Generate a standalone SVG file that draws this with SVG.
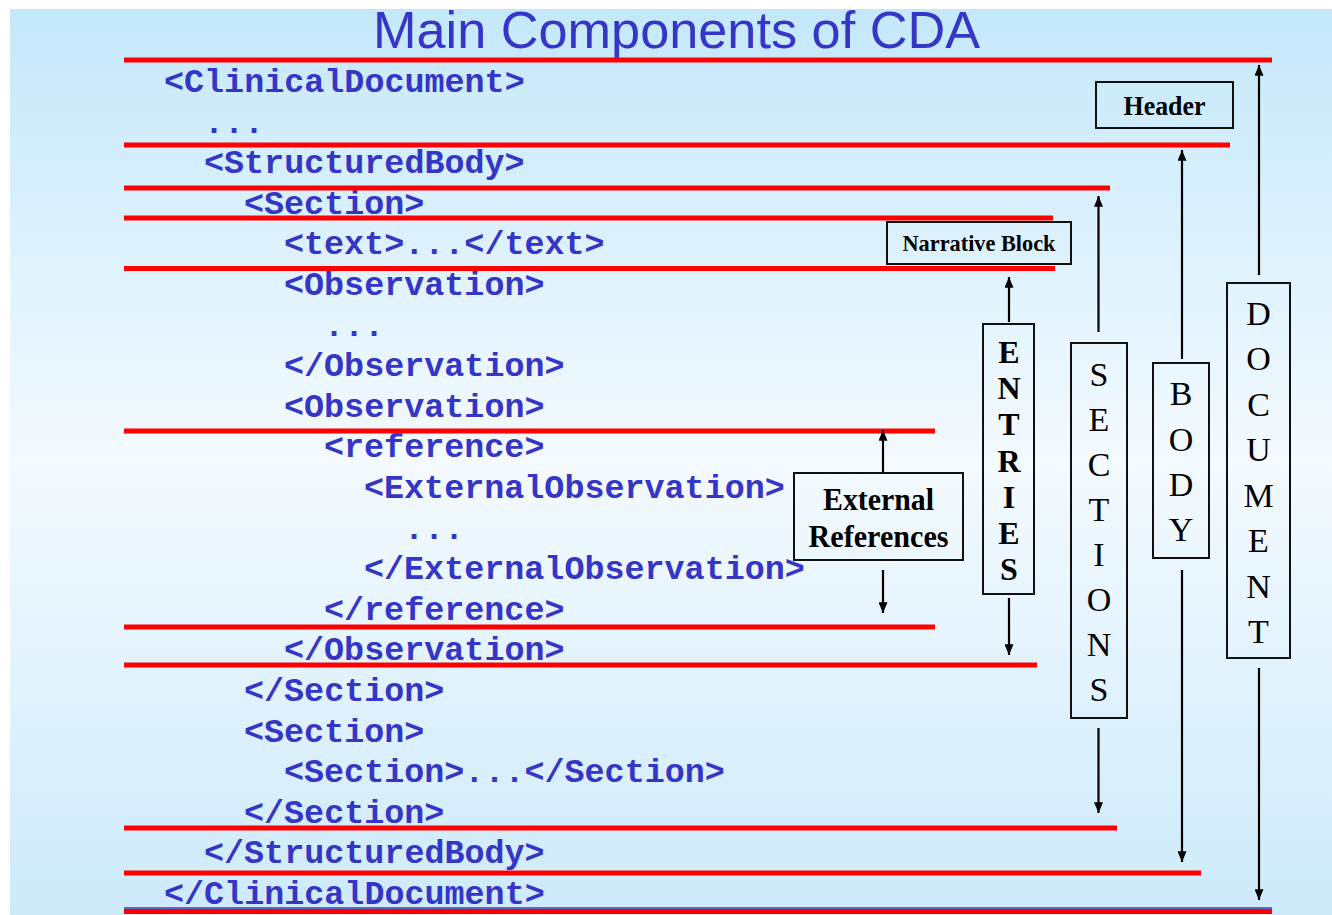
<svg xmlns="http://www.w3.org/2000/svg" width="1332" height="915" viewBox="0 0 1332 915">
  <defs>
    <linearGradient id="bg" x1="0" y1="0" x2="0" y2="1">
      <stop offset="0" stop-color="#c4e8fb"/>
      <stop offset="0.5" stop-color="#f4fafe"/>
      <stop offset="1" stop-color="#cdeafb"/>
    </linearGradient>
    <marker id="tip" viewBox="0 0 12 10" refX="12" refY="5" markerWidth="11" markerHeight="9" markerUnits="userSpaceOnUse" orient="auto">
      <path d="M0,0 L12,5 L0,10 z" fill="#000"/>
    </marker>
    <style>
      .title { font-family: "Liberation Sans", Arial, sans-serif; font-size: 52px; fill: #3535c8; }
      .code { font-family: "Liberation Mono", "Courier New", monospace; font-weight: bold; font-size: 33.4px; fill: #3535c8; }
      .rule { stroke: #ff0000; stroke-width: 5; }
      .box { fill: none; stroke: #111; stroke-width: 2; }
      .lbl { font-family: "Liberation Serif", "Times New Roman", serif; font-weight: bold; fill: #000; text-anchor: middle; }
      .vb { font-family: "Liberation Serif", "Times New Roman", serif; font-weight: bold; font-size: 32px; fill: #000; text-anchor: middle; }
      .vr { font-family: "Liberation Serif", "Times New Roman", serif; font-size: 34px; fill: #000; text-anchor: middle; }
      .conn line { stroke: #000; stroke-width: 2.2; }
    </style>
  </defs>

  <rect x="0" y="0" width="1332" height="915" fill="#ffffff"/>
  <rect x="10" y="9" width="1322" height="906" fill="url(#bg)"/>

  <text class="title" x="676.5" y="48" text-anchor="middle" textLength="607" lengthAdjust="spacingAndGlyphs">Main Components of CDA</text>

  <!-- XML listing -->
  <g id="listing">
    <text class="code" x="164" y="92">&lt;ClinicalDocument&gt;</text>
    <text class="code" x="204" y="132.6">...</text>
    <text class="code" x="204" y="173.2">&lt;StructuredBody&gt;</text>
    <text class="code" x="244" y="213.8">&lt;Section&gt;</text>
    <text class="code" x="284" y="254.4">&lt;text&gt;...&lt;/text&gt;</text>
    <text class="code" x="284" y="295">&lt;Observation&gt;</text>
    <text class="code" x="324" y="335.6">...</text>
    <text class="code" x="284" y="376.2">&lt;/Observation&gt;</text>
    <text class="code" x="284" y="416.8">&lt;Observation&gt;</text>
    <text class="code" x="324" y="457.4">&lt;reference&gt;</text>
    <text class="code" x="364" y="498">&lt;ExternalObservation&gt;</text>
    <text class="code" x="404" y="538.6">...</text>
    <text class="code" x="364" y="579.2">&lt;/ExternalObservation&gt;</text>
    <text class="code" x="324" y="619.8">&lt;/reference&gt;</text>
    <text class="code" x="284" y="660.4">&lt;/Observation&gt;</text>
    <text class="code" x="244" y="701">&lt;/Section&gt;</text>
    <text class="code" x="244" y="741.6">&lt;Section&gt;</text>
    <text class="code" x="284" y="782.2">&lt;Section&gt;...&lt;/Section&gt;</text>
    <text class="code" x="244" y="822.8">&lt;/Section&gt;</text>
    <text class="code" x="204" y="863.4">&lt;/StructuredBody&gt;</text>
    <text class="code" x="164" y="904">&lt;/ClinicalDocument&gt;</text>
  </g>

  <!-- red separator rules -->
  <g id="rules">
    <line class="rule" x1="124" y1="60" x2="1272" y2="60"/>
    <line class="rule" x1="124" y1="145" x2="1230" y2="145"/>
    <line class="rule" x1="124" y1="188" x2="1110" y2="188"/>
    <line class="rule" x1="124" y1="218" x2="1053" y2="218"/>
    <line class="rule" x1="124" y1="268.5" x2="1055" y2="268.5"/>
    <line class="rule" x1="124" y1="431" x2="935" y2="431"/>
    <line class="rule" x1="124" y1="627" x2="935" y2="627"/>
    <line class="rule" x1="124" y1="665" x2="1037" y2="665"/>
    <line class="rule" x1="124" y1="828" x2="1117" y2="828"/>
    <line class="rule" x1="124" y1="873" x2="1201" y2="873"/>
    <line x1="124" y1="908" x2="1272" y2="908" stroke="#3a3ab0" stroke-width="1.5"/>
    <line class="rule" x1="124" y1="911.5" x2="1272" y2="911.5"/>
  </g>

  <!-- connectors -->
  <g id="connectors" class="conn">
    <line x1="883" y1="473" x2="883" y2="430" marker-end="url(#tip)"/>
    <line x1="883" y1="570" x2="883" y2="613" marker-end="url(#tip)"/>
    <line x1="1009" y1="322" x2="1009" y2="277" marker-end="url(#tip)"/>
    <line x1="1009" y1="598" x2="1009" y2="655" marker-end="url(#tip)"/>
    <line x1="1098.5" y1="332" x2="1098.5" y2="196" marker-end="url(#tip)"/>
    <line x1="1098.5" y1="728" x2="1098.5" y2="813" marker-end="url(#tip)"/>
    <line x1="1182" y1="359" x2="1182" y2="150" marker-end="url(#tip)"/>
    <line x1="1182" y1="570" x2="1182" y2="862" marker-end="url(#tip)"/>
    <line x1="1259" y1="275" x2="1259" y2="65" marker-end="url(#tip)"/>
    <line x1="1259" y1="668" x2="1259" y2="900" marker-end="url(#tip)"/>
  </g>

  <g id="header">
    <rect class="box" x="1096" y="82" width="137" height="46"/>
    <text class="lbl" x="1164.5" y="115" font-size="27" textLength="82" lengthAdjust="spacingAndGlyphs">Header</text>
  </g>

  <g id="narrative-block">
    <rect class="box" x="887" y="222" width="184" height="42"/>
    <text class="lbl" x="979" y="251" font-size="23" textLength="153" lengthAdjust="spacingAndGlyphs">Narrative Block</text>
  </g>

  <g id="external-references">
    <rect class="box" x="794" y="473" width="169" height="87"/>
    <text class="lbl" x="878.5" y="510" font-size="31" textLength="111" lengthAdjust="spacingAndGlyphs">External</text>
    <text class="lbl" x="878.5" y="547" font-size="31" textLength="140" lengthAdjust="spacingAndGlyphs">References</text>
  </g>

  <g id="entries">
    <rect class="box" x="983" y="324" width="51" height="270"/>
    <text class="vb" x="1009" y="363">E</text>
    <text class="vb" x="1009" y="399">N</text>
    <text class="vb" x="1009" y="435">T</text>
    <text class="vb" x="1009" y="472">R</text>
    <text class="vb" x="1009" y="508">I</text>
    <text class="vb" x="1009" y="544">E</text>
    <text class="vb" x="1009" y="580">S</text>
  </g>

  <g id="sections">
    <rect class="box" x="1071" y="343" width="56" height="375"/>
    <text class="vr" x="1099" y="386">S</text>
    <text class="vr" x="1099" y="431">E</text>
    <text class="vr" x="1099" y="476">C</text>
    <text class="vr" x="1099" y="521">T</text>
    <text class="vr" x="1099" y="566">I</text>
    <text class="vr" x="1099" y="611">O</text>
    <text class="vr" x="1099" y="656">N</text>
    <text class="vr" x="1099" y="701">S</text>
  </g>

  <g id="body">
    <rect class="box" x="1153" y="363" width="56" height="195"/>
    <text class="vr" x="1181" y="405">B</text>
    <text class="vr" x="1181" y="451">O</text>
    <text class="vr" x="1181" y="496">D</text>
    <text class="vr" x="1181" y="541">Y</text>
  </g>

  <g id="document">
    <rect class="box" x="1227" y="283" width="63" height="375"/>
    <text class="vr" x="1258.5" y="325">D</text>
    <text class="vr" x="1258.5" y="370">O</text>
    <text class="vr" x="1258.5" y="416">C</text>
    <text class="vr" x="1258.5" y="461">U</text>
    <text class="vr" x="1258.5" y="507">M</text>
    <text class="vr" x="1258.5" y="552">E</text>
    <text class="vr" x="1258.5" y="598">N</text>
    <text class="vr" x="1258.5" y="643">T</text>
  </g>
</svg>
